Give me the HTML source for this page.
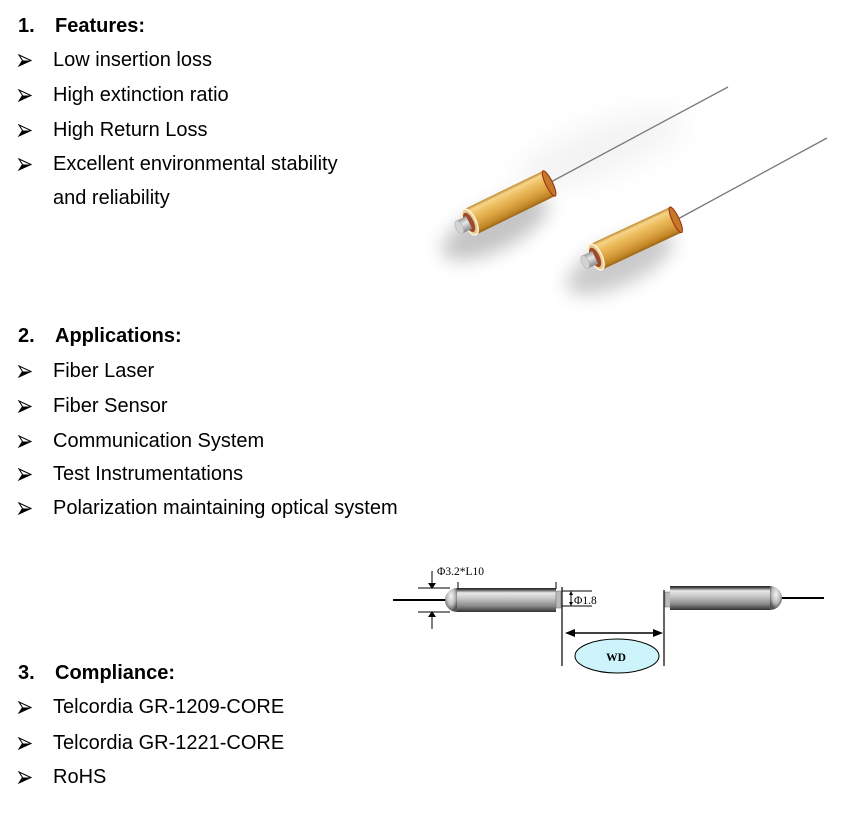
<!DOCTYPE html>
<html>
<head>
<meta charset="utf-8">
<style>
  html, body { margin:0; padding:0; background:#fff; }
  body { width:850px; height:813px; overflow:hidden; }
  svg { display:block; }
  .t { font-family:"Liberation Sans", Arial, sans-serif; font-size:20px; fill:#000; }
  .b { font-weight:bold; }
  .s { font-family:"Liberation Serif", "Times New Roman", serif; font-size:11.5px; fill:#000; }
</style>
</head>
<body>
<svg width="850" height="813" viewBox="0 0 850 813" xmlns="http://www.w3.org/2000/svg">
  <defs>
    <g id="bul">
      <path d="M0,0 L12,5.5 L0,11 L3.5,5.5 Z" fill="#fff" stroke="#000" stroke-width="1" stroke-linejoin="miter"/>
      <path d="M3.5,5.5 L12,5.5 L0,11 Z" fill="#000"/>
    </g>
    <linearGradient id="gold" x1="0" y1="0" x2="0" y2="1">
      <stop offset="0" stop-color="#c08a30"/>
      <stop offset="0.12" stop-color="#f6d488"/>
      <stop offset="0.35" stop-color="#ecbc5c"/>
      <stop offset="0.65" stop-color="#d9a040"/>
      <stop offset="0.88" stop-color="#c08424"/>
      <stop offset="1" stop-color="#9a6418"/>
    </linearGradient>
    <linearGradient id="ferr" x1="0" y1="0" x2="0" y2="1">
      <stop offset="0" stop-color="#9a9a9a"/>
      <stop offset="0.4" stop-color="#e6e6e6"/>
      <stop offset="1" stop-color="#8a8a8a"/>
    </linearGradient>
    <linearGradient id="coll" x1="0" y1="0" x2="0" y2="1">
      <stop offset="0" stop-color="#222"/>
      <stop offset="0.08" stop-color="#555"/>
      <stop offset="0.2" stop-color="#e8e8e8"/>
      <stop offset="0.45" stop-color="#c4c4c4"/>
      <stop offset="0.75" stop-color="#8a8a8a"/>
      <stop offset="1" stop-color="#333"/>
    </linearGradient>
    <radialGradient id="dome" cx="0.5" cy="0.35" r="0.6">
      <stop offset="0" stop-color="#f4f4f4"/>
      <stop offset="0.6" stop-color="#bbb"/>
      <stop offset="1" stop-color="#555"/>
    </radialGradient>
    <filter id="blur" x="-50%" y="-50%" width="200%" height="200%">
      <feGaussianBlur stdDeviation="9"/>
    </filter>
    <filter id="blur2" x="-50%" y="-50%" width="200%" height="200%">
      <feGaussianBlur stdDeviation="14"/>
    </filter>
  </defs>

  <!-- Section 1 -->
  <text class="t b" x="18" y="32">1.</text>
  <text class="t b" x="55" y="32">Features:</text>
  <use href="#bul" x="19" y="55"/><text class="t" x="53" y="66">Low insertion loss</text>
  <use href="#bul" x="19" y="90"/><text class="t" x="53" y="101">High extinction ratio</text>
  <use href="#bul" x="19" y="125"/><text class="t" x="53" y="136">High Return Loss</text>
  <use href="#bul" x="19" y="159"/><text class="t" x="53" y="170">Excellent environmental stability</text>
  <text class="t" x="53" y="204">and reliability</text>

  <!-- Section 2 -->
  <text class="t b" x="18" y="342">2.</text>
  <text class="t b" x="55" y="342">Applications:</text>
  <use href="#bul" x="19" y="366"/><text class="t" x="53" y="377">Fiber Laser</text>
  <use href="#bul" x="19" y="401"/><text class="t" x="53" y="412">Fiber Sensor</text>
  <use href="#bul" x="19" y="436"/><text class="t" x="53" y="447">Communication System</text>
  <use href="#bul" x="19" y="469"/><text class="t" x="53" y="480">Test Instrumentations</text>
  <use href="#bul" x="19" y="503"/><text class="t" x="53" y="514">Polarization maintaining optical system</text>

  <!-- Section 3 -->
  <text class="t b" x="18" y="679">3.</text>
  <text class="t b" x="55" y="679">Compliance:</text>
  <use href="#bul" x="19" y="702"/><text class="t" x="53" y="713">Telcordia GR-1209-CORE</text>
  <use href="#bul" x="19" y="738"/><text class="t" x="53" y="749">Telcordia GR-1221-CORE</text>
  <use href="#bul" x="19" y="772"/><text class="t" x="53" y="783">RoHS</text>

  <!-- Photo: two collimators -->
  <ellipse cx="600" cy="150" rx="90" ry="25" transform="rotate(-20 600 150)" fill="#ddd" opacity="0.35" filter="url(#blur2)"/>
  <ellipse cx="495" cy="228" rx="58" ry="22" transform="rotate(-26 495 228)" fill="#8a8a8a" opacity="0.5" filter="url(#blur)"/>
  <ellipse cx="620" cy="263" rx="58" ry="22" transform="rotate(-25 620 263)" fill="#8a8a8a" opacity="0.45" filter="url(#blur)"/>

  <line x1="549" y1="183" x2="728" y2="87" stroke="#7a7a7a" stroke-width="1.3"/>
  <line x1="676" y1="220" x2="827" y2="138" stroke="#7a7a7a" stroke-width="1.3"/>

  <g transform="translate(470,222) rotate(-26)">
    <rect x="0" y="-14" width="88" height="28" fill="url(#gold)"/>
    <ellipse cx="88" cy="0" rx="3.5" ry="14" fill="#c07a28" stroke="#a02810" stroke-width="1"/>
    <ellipse cx="0" cy="0" rx="6" ry="14" fill="#e8c890" stroke="#fff4dc" stroke-width="1.5"/>
    <ellipse cx="-1" cy="0" rx="4.5" ry="10.5" fill="#9c4a2c"/>
    <rect x="-12" y="-7" width="11" height="14" fill="url(#ferr)"/>
    <ellipse cx="-12" cy="0" rx="3.5" ry="7" fill="#d2d2d2" stroke="#aaa" stroke-width="0.5"/>
  </g>
  <g transform="translate(596,257) rotate(-25)">
    <rect x="0" y="-14" width="88" height="28" fill="url(#gold)"/>
    <ellipse cx="88" cy="0" rx="3.5" ry="14" fill="#c07a28" stroke="#a02810" stroke-width="1"/>
    <ellipse cx="0" cy="0" rx="6" ry="14" fill="#e8c890" stroke="#fff4dc" stroke-width="1.5"/>
    <ellipse cx="-1" cy="0" rx="4.5" ry="10.5" fill="#9c4a2c"/>
    <rect x="-12" y="-7" width="11" height="14" fill="url(#ferr)"/>
    <ellipse cx="-12" cy="0" rx="3.5" ry="7" fill="#d2d2d2" stroke="#aaa" stroke-width="0.5"/>
  </g>

  <!-- Diagram -->
  <g stroke="#000" fill="none">
    <line x1="393" y1="600" x2="447" y2="600" stroke-width="2"/>
    <line x1="418" y1="588" x2="450" y2="588" stroke-width="1"/>
    <line x1="418" y1="612" x2="450" y2="612" stroke-width="1"/>
    <line x1="432" y1="571" x2="432" y2="584" stroke-width="1"/>
    <line x1="432" y1="616" x2="432" y2="629" stroke-width="1"/>
    <line x1="458" y1="582" x2="458" y2="589" stroke-width="1"/>
    <line x1="556" y1="582" x2="556" y2="589" stroke-width="1"/>
    <line x1="562" y1="587" x2="562" y2="666" stroke-width="1.2"/>
    <line x1="562" y1="591" x2="592" y2="591" stroke-width="1"/>
    <line x1="562" y1="606" x2="592" y2="606" stroke-width="1"/>
    <line x1="571" y1="594" x2="571" y2="603" stroke-width="1"/>
    <line x1="664" y1="590" x2="664" y2="666" stroke-width="1.2"/>
    <line x1="572" y1="633" x2="657" y2="633" stroke-width="1.5"/>
    <line x1="781" y1="598" x2="824" y2="598" stroke-width="2"/>
  </g>
  <g fill="#000">
    <path d="M428,583 L436,583 L432,589 Z"/>
    <path d="M428,617 L436,617 L432,611 Z"/>
    <path d="M569,595 L573,595 L571,591 Z"/>
    <path d="M569,602 L573,602 L571,606 Z"/>
    <path d="M565,633 L575,629 L575,637 Z"/>
    <path d="M663,633 L653,629 L653,637 Z"/>
  </g>

  <path d="M457,588 A12,12 0 0 0 457,612 Z" fill="url(#dome)"/>
  <rect x="457" y="588" width="99" height="24" fill="url(#coll)"/>
  <rect x="556" y="591" width="5" height="17" fill="#bbb" stroke="#666" stroke-width="0.5"/>
  <rect x="665" y="592" width="6" height="15" fill="#bbb" stroke="#666" stroke-width="0.5"/>
  <rect x="670" y="586" width="100" height="24" fill="url(#coll)"/>
  <path d="M770,586 A12,12 0 0 1 770,610 Z" fill="url(#dome)"/>

  <text class="s" x="437" y="575">Φ3.2*L10</text>
  <text class="s" x="574" y="604">Φ1.8</text>
  <ellipse cx="617" cy="656" rx="42" ry="17" fill="#ccf4fa" stroke="#000" stroke-width="1"/>
  <text class="s" x="616" y="661" text-anchor="middle" font-weight="bold" font-size="13">WD</text>
</svg>
</body>
</html>
